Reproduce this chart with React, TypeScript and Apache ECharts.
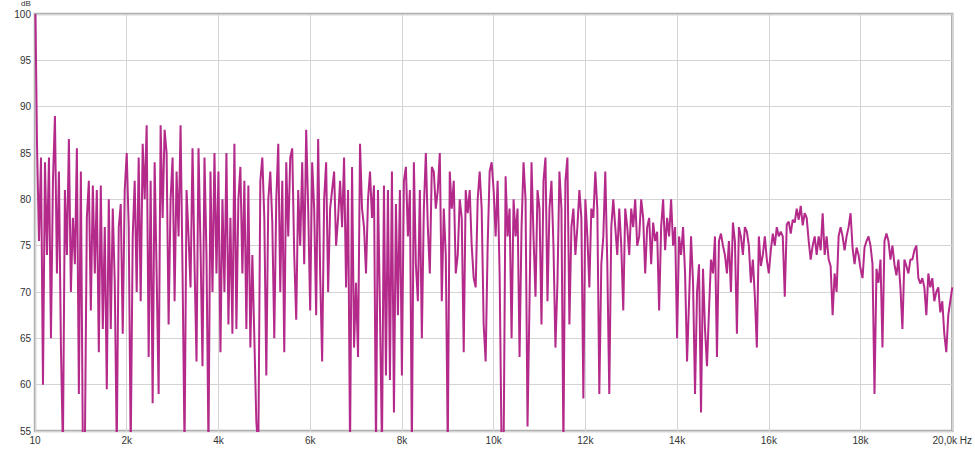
import React, { useEffect, useRef } from "react";
import * as echarts from "echarts";

// Frequency bands of 2 kHz, values in dB, one bin every 2000/46 Hz
const band0 = [100, 86, 75.5, 84.5, 60, 84, 74, 84.5, 65, 82, 89, 72, 83, 64, 53, 81, 74, 86.5, 70, 78, 73, 85.5, 59, 83, 53, 53, 78, 82, 68, 81.5, 72, 81, 63.5, 81.5, 66, 77, 59.5, 80, 66, 79, 71, 53, 77, 79.5, 65.5, 81];
const band1 = [85, 77, 53, 76, 82, 70, 84.5, 69, 86, 80, 88, 63, 82, 58, 84, 72, 59, 88, 78, 87.5, 85, 66.5, 80, 84.5, 69, 83, 76, 88, 72, 53, 81, 76, 70.5, 85.5, 73, 62.5, 85.5, 75, 62, 84.5, 74, 53, 83, 70, 85, 72];
const band2 = [83, 63.5, 80, 70, 85, 66.5, 78, 65.5, 86, 66, 80, 83.5, 72, 82, 66, 81.5, 64, 74, 65, 56, 53, 82, 84.5, 78, 61, 80, 83, 77.5, 65, 80, 86, 70, 82, 63.5, 84, 76, 84.5, 85.5, 74, 67, 81, 75, 84, 73, 87.5, 79];
const band3 = [68, 84, 79, 67.5, 86.5, 72, 62.5, 80, 84, 70, 79, 81, 83, 75, 78, 82, 77, 84.5, 70.5, 81, 53, 83.5, 64, 71, 63, 86, 79, 77, 72, 80, 83, 78, 81.5, 53, 81, 68, 53, 81.5, 61, 81, 60.5, 83, 57, 79.5, 67.5, 81];
const band4 = [61, 82, 83.5, 76, 81, 53, 84, 73, 69, 81, 65, 79, 85, 77, 72, 83.5, 83, 79, 81, 85, 69, 79, 74, 53, 83, 79, 82, 72, 74, 80, 78, 63.5, 81, 78.5, 81, 75, 71.5, 70.5, 80, 83, 79, 66.5, 62.5, 75, 83, 84];
const band5 = [81, 76, 82, 72, 53, 53, 82.5, 76, 79, 65, 80, 76, 79, 63, 77, 84, 80, 55.5, 69, 84, 76, 69.5, 81, 79, 66.5, 82, 84.5, 69, 79, 82, 75, 64, 71, 83, 79, 53, 82, 84.5, 66.5, 77, 79, 74, 77, 81, 78, 58.5];
const band6 = [80, 76, 70.5, 79, 78, 83, 79, 59, 73, 76, 83, 73, 59, 77, 80, 77, 74, 79, 75, 68, 79, 77, 74, 79, 77, 80, 75, 76, 80, 78, 72, 77, 78, 73, 77.5, 75.5, 76.5, 68, 77, 80, 74.5, 78, 76, 80, 75, 77];
const band7 = [65, 76, 74, 77, 72, 62.5, 69, 76, 71, 59, 70, 73, 57, 72.5, 66, 62, 68, 73.5, 72, 76, 63, 75.5, 76.3, 75, 74, 72, 75.5, 70, 77.5, 75.5, 65.5, 77, 76, 74, 77, 76.5, 75, 71, 73.5, 69.5, 64, 76, 72.8, 74, 76, 73.5];
const band8 = [72, 74.5, 76.3, 75, 77, 76, 76.5, 76, 69.5, 77.3, 77.6, 76.3, 77.8, 77.5, 79, 77.8, 79.3, 77.2, 78.5, 78, 75.5, 73.5, 75, 76, 74, 76, 74.5, 78.5, 74, 76, 73.5, 72.8, 67.5, 72, 70, 76, 77, 76, 74.5, 76, 77, 78.5, 74.8, 73, 74.8, 74];
const band9 = [72.5, 71.5, 74.8, 75.5, 76, 75, 73, 59, 72.5, 71, 73.5, 64, 75.5, 76.3, 75.5, 73.5, 75, 73, 71.8, 73.5, 70.5, 66, 73.5, 72.8, 72, 73.5, 73.5, 74.5, 75, 71.5, 70.9, 71.5, 70.5, 67.5, 72, 70.5, 71.5, 69, 70, 70.5, 67.8, 69, 65.5, 63.5, 67.5, 69, 70.5];

const bands = [band0, band1, band2, band3, band4, band5, band6, band7, band8, band9];
const BAND_WIDTH_HZ = 2000;
const BINS_PER_BAND = 46;
const START_HZ = 10;

const xTicks = [0, 2000, 4000, 6000, 8000, 10000, 12000, 14000, 16000, 18000, 20000];
const xTickLabels = ["10", "2k", "4k", "6k", "8k", "10k", "12k", "14k", "16k", "18k", "20,0k Hz"];

export default function App() {
  const ref = useRef<HTMLDivElement>(null);
  useEffect(() => {
    if (!ref.current) return;
    const chart = echarts.init(ref.current, null, { renderer: "svg" });
    const step = BAND_WIDTH_HZ / BINS_PER_BAND;
    const data: number[][] = [];
    bands.forEach((b, k) => {
      b.forEach((v, i) => {
        const f = k === 0 && i === 0 ? START_HZ : k * BAND_WIDTH_HZ + i * step;
        data.push([f, v]);
      });
    });
    const labelStyle = {
      fontSize: 10,
      color: "#333",
      fontFamily: "Liberation Sans, Arial, sans-serif",
    };
    chart.setOption({
      animation: false,
      backgroundColor: "#ffffff",
      grid: {
        left: 35,
        right: 17,
        top: 14,
        bottom: 19,
        show: true,
        borderColor: "#b0b0b0",
        borderWidth: 2.5,
        backgroundColor: "#ffffff",
      },
      xAxis: {
        type: "value",
        min: 0,
        max: 20000,
        interval: 2000,
        axisLine: { show: false },
        axisTick: { show: false },
        splitLine: { show: true, lineStyle: { color: "#d4d4d4", width: 1 } },
        axisLabel: {
          ...labelStyle,
          margin: 4,
          showMinLabel: true,
          showMaxLabel: true,
          formatter: (v: number) => {
            const idx = xTicks.indexOf(v);
            return idx >= 0 ? xTickLabels[idx] : "";
          },
        },
      },
      yAxis: {
        type: "value",
        min: 55,
        max: 100,
        interval: 5,
        axisLine: { show: false },
        axisTick: { show: false },
        splitLine: { show: true, lineStyle: { color: "#d4d4d4", width: 1 } },
        axisLabel: { ...labelStyle, margin: 4 },
      },
      graphic: [
        {
          type: "text",
          left: 21,
          top: -1,
          style: { text: "dB", fontSize: 8, fill: "#333", fontFamily: "Liberation Sans, Arial, sans-serif" },
        },
      ],
      series: [
        {
          type: "line",
          data,
          symbol: "none",
          showSymbol: false,
          clip: true,
          lineStyle: { color: "#b42a8a", width: 2 },
        },
      ],
    });
    return () => chart.dispose();
  }, []);
  return (
    <div
      ref={ref}
      style={{ position: "fixed", left: 0, top: 0, width: 975, height: 450, background: "#fff" }}
    />
  );
}
